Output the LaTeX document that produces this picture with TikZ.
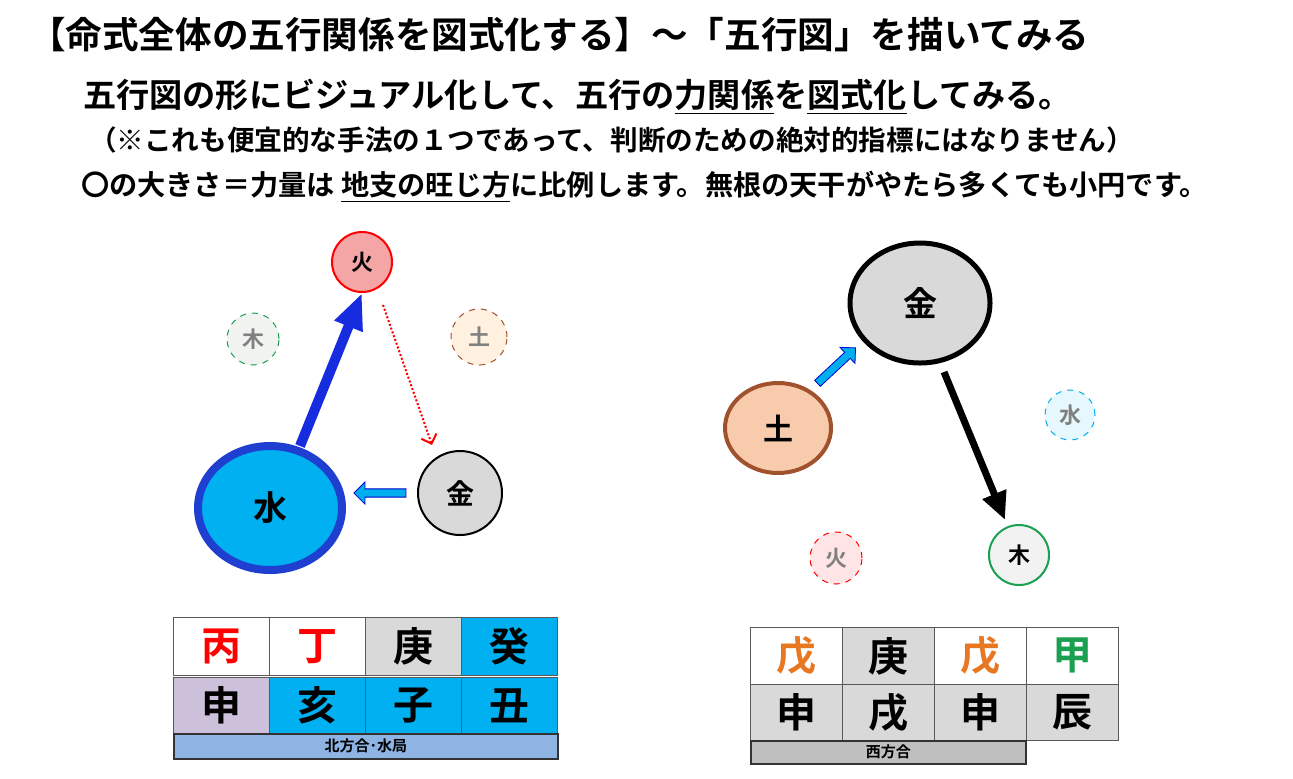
\documentclass[tikz,border=0pt]{standalone}
\usepackage{fontspec}
\newfontfamily\jp{Noto Sans CJK JP}[BoldFont=* Bold]
\usetikzlibrary{positioning,shapes.arrows,shapes.geometric,arrows.meta}
\definecolor{suiblue}{HTML}{00B0F0}
\definecolor{suiedge}{HTML}{1F3FD0}
\definecolor{kingray}{HTML}{D9D9D9}
\definecolor{kapink}{HTML}{F4A6A6}
\definecolor{dopeach}{HTML}{F8CBAD}
\definecolor{doedge}{HTML}{A0522D}
\definecolor{dored}{HTML}{E87722}
\definecolor{mokgreen}{HTML}{1AA050}
\definecolor{lavender}{HTML}{CCC0DA}
\definecolor{bandblue}{HTML}{8DB4E2}
\tikzset{
  gyo/.style={circle,draw,line width=1pt,inner sep=0pt,font=\jp\bfseries\fontsize{11}{11}\selectfont},
  faint/.style={gyo,dashed,line width=0.5pt,text=gray},
  cell/.style={draw=gray!70!black,line width=0.4pt,minimum width=48pt,minimum height=29pt,inner sep=0pt,anchor=north west,font=\jp\bfseries\fontsize{20}{20}\selectfont},
  band/.style={draw=black!80,line width=0.8pt,inner sep=0pt,anchor=north west,font=\jp\bfseries\fontsize{7.5}{7.5}\selectfont},
  blockarrow/.style={single arrow,draw=blue!80!black,fill=cyan,line width=0.4pt,minimum height=26pt,minimum width=11pt,single arrow head extend=2pt,inner sep=1pt}
}
\begin{document}
\begin{tikzpicture}[x=0.5pt,y=-0.5pt]
\useasboundingbox (0,0) rectangle (1293,778);
% heading texts
\node[anchor=west,font=\jp\bfseries\fontsize{18.3}{18}\selectfont] (title) at (22,35) {【命式全体の五行関係を図式化する】～「五行図」を描いてみる};
\node[anchor=west,font=\jp\bfseries\fontsize{16.6}{17}\selectfont] (lead) at (76,97) {五行図の形にビジュアル化して、五行の\underline{力関係}を\underline{図式化}してみる。};
\node[anchor=west,font=\jp\bfseries\fontsize{13.8}{14}\selectfont] (note) at (82,140) {（※これも便宜的な手法の１つであって、判断のための絶対的指標にはなりません）};
\node[anchor=west,font=\jp\bfseries\fontsize{14.1}{14}\selectfont] (rule) at (74,187) {〇の大きさ＝力量は \underline{地支の旺じ方}に比例します。無根の天干がやたら多くても小円です。};

% left chart
\node[gyo,draw=red,fill=kapink,minimum size=30pt] (ka) at (362,262) {火};
\node[faint,draw=mokgreen,fill=green!8!gray!10,minimum size=26pt] (moku) at (253,339) {木};
\node[faint,draw=doedge,fill=orange!12,minimum size=28pt] (do) at (479,337) {土};
\node[ellipse,draw=suiedge,fill=suiblue,line width=4pt,minimum width=72pt,minimum height=62pt,font=\jp\bfseries\fontsize{17}{17}\selectfont] (sui) at (270,508) {水};
\node[gyo,draw=black,fill=kingray,minimum size=42pt,font=\jp\bfseries\fontsize{14}{14}\selectfont] (kin) at (460,493) {金};
\coordinate (s1) at (300,446);
\coordinate (k1) at (383,305);
\coordinate (k2) at (432,445);
\draw[suiedge!70!blue,line width=5pt,-{Triangle[width=14pt,length=18pt]}] (s1) -- (ka.south);
\draw[red,densely dotted,line width=1pt,-{Straight Barb[length=4pt]}] (k1) -- (k2);
\node[blockarrow,shape border rotate=180] (kinsui) at (382,493) {};

% right chart
\node[ellipse,draw=black,fill=kingray,line width=2.5pt,minimum width=70pt,minimum height=60pt,font=\jp\bfseries\fontsize{17}{17}\selectfont] (kin2) at (920,303) {金};
\node[ellipse,draw=doedge,fill=dopeach,line width=2pt,minimum width=53pt,minimum height=45pt,font=\jp\bfseries\fontsize{15}{15}\selectfont] (do2) at (778,428) {土};
\node[faint,draw=cyan,fill=cyan!10,minimum size=25pt] (sui2) at (1070,415) {水};
\node[faint,draw=red,fill=red!10,minimum size=26pt] (ka2) at (836,558) {火};
\node[gyo,draw=mokgreen,fill=gray!10,minimum size=30pt] (moku2) at (1019,555) {木};
\coordinate (m1) at (944,372);
\coordinate (m2) at (1005,520);
\draw[black,line width=3.5pt,-{Triangle[width=12pt,length=14pt]}] (m1) -- (m2);
\node[blockarrow,rotate=43] (dokin) at (835,367) {};

% left table
\foreach \t/\c/\f [count=\i from 0] in {丙/white/red,丁/white/red,庚/kingray/black,癸/suiblue/black}
  \node[cell,fill=\c,text=\f] (la\i) at (173+96*\i,617) {\t};
\foreach \t/\c [count=\i from 0] in {申/lavender,亥/suiblue,子/suiblue,丑/suiblue}
  \node[cell,fill=\c,minimum height=28pt] (lb\i) at (173+96*\i,677) {\t};
\node[band,fill=bandblue,minimum width=192pt,minimum height=12.5pt] (lband) at (173,733) {北方合･水局};

% right table
\foreach \t/\c/\f [count=\i from 0] in {戊/white/dored,庚/kingray/black,戊/white/dored,甲/white/mokgreen}
  \node[cell,fill=\c,text=\f,minimum width=46pt,minimum height=28.5pt] (ra\i) at (750+92*\i,627) {\t};
\foreach \t [count=\i from 0] in {申,戌,申,辰}
  \node[cell,fill=kingray,minimum width=46pt,minimum height=28pt] (rb\i) at (750+92*\i,684) {\t};
\node[band,fill=gray!50,minimum width=137.5pt,minimum height=11.5pt] (rband) at (750,740) {西方合};
\end{tikzpicture}
\end{document}
